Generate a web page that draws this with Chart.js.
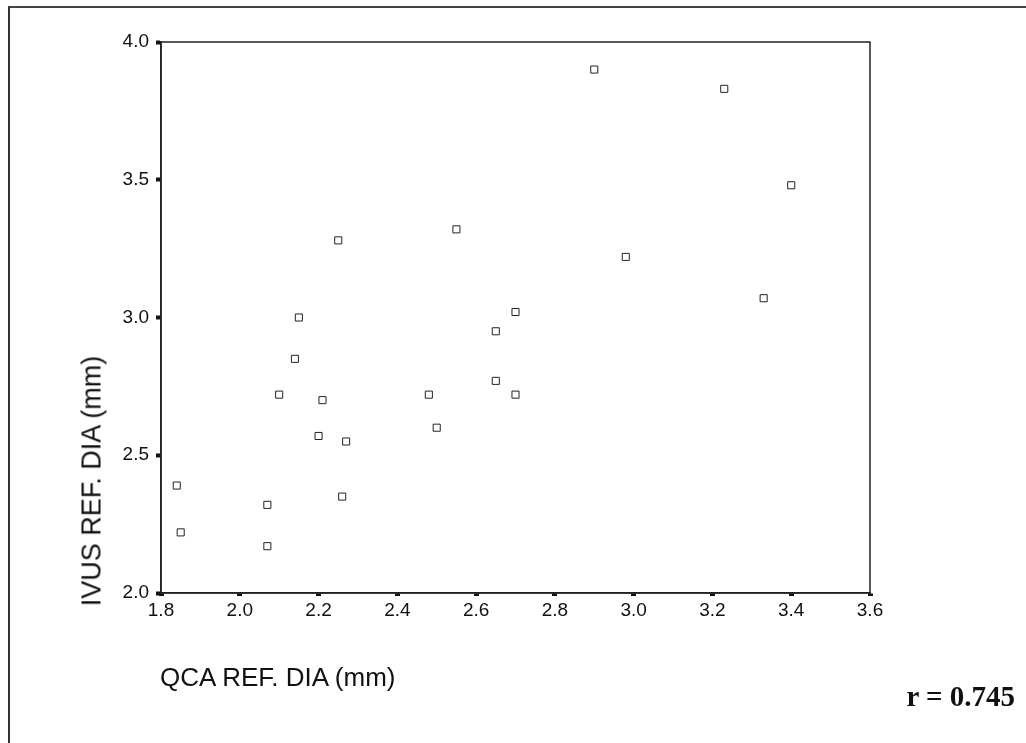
<!DOCTYPE html>
<html>
<head>
<meta charset="utf-8">
<title>QCA vs IVUS reference diameter</title>
<script src="https://cdn.jsdelivr.net/npm/chart.js@4.4.1/dist/chart.umd.min.js"></script>
<style>
  html, body { margin: 0; padding: 0; background: #fff; }
  body { width: 1026px; height: 743px; position: relative; overflow: hidden;
         font-family: "Liberation Sans", Arial, sans-serif; color: #111; }
  #frame { position: absolute; left: 8px; top: 6px; right: 0; bottom: 0;
           border-left: 2px solid #333; border-top: 2px solid #444; }
  #chart { position: absolute; left: 0; top: 0; }
  .label { position: absolute; white-space: nowrap; }
  #xTitle { left: 160px; top: 662px; font-size: 26px; }
  #yTitle { left: 92px; top: 481px; font-size: 27px;
            transform: translate(-50%, -50%) rotate(-90deg); }
  #rValue { right: 11px; top: 680px; font-family: "Liberation Serif", "Times New Roman", serif;
            font-weight: bold; font-size: 29px; }
</style>
</head>
<body>
<div id="frame"></div>
<canvas id="chart" width="1026" height="743"></canvas>
<div class="label" id="xTitle">QCA REF. DIA (mm)</div>
<div class="label" id="yTitle">IVUS REF. DIA (mm)</div>
<div class="label" id="rValue">r = 0.745</div>

<script>
// Values (mm)
const qcaRefDia = [1.84, 1.85, 2.07, 2.07, 2.10, 2.14, 2.15, 2.20, 2.21, 2.25, 2.27, 2.26,
                   2.48, 2.50, 2.55, 2.65, 2.65, 2.70, 2.70, 2.90, 2.98, 3.23, 3.33, 3.40];
const ivusRefDia = [2.39, 2.22, 2.32, 2.17, 2.72, 2.85, 3.00, 2.57, 2.70, 3.28, 2.55, 2.35,
                    2.72, 2.60, 3.32, 2.95, 2.77, 3.02, 2.72, 3.90, 3.22, 3.83, 3.07, 3.48];

const xTicks = [1.8, 2.0, 2.2, 2.4, 2.6, 2.8, 3.0, 3.2, 3.4, 3.6];
const yTicks = [2.0, 2.5, 3.0, 3.5, 4.0];

const points = qcaRefDia.map((x, i) => ({ x: x, y: ivusRefDia[i] }));

// Box round the plot area (top and right sides too)
const plotBox = {
  id: 'plotBox',
  afterDraw(chart) {
    const a = chart.chartArea;
    const ctx = chart.ctx;
    ctx.save();
    ctx.strokeStyle = '#222';
    ctx.lineWidth = 1.5;
    ctx.strokeRect(a.left, a.top, a.right - a.left, a.bottom - a.top);
    ctx.restore();
  }
};

const tickFont = { family: '"Liberation Sans", Arial, sans-serif', size: 19 };

new Chart(document.getElementById('chart').getContext('2d'), {
  type: 'scatter',
  data: {
    datasets: [{
      data: points,
      pointStyle: 'rect',
      pointRadius: 5,
      pointBorderWidth: 1,
      pointBorderColor: '#222',
      pointBackgroundColor: 'rgba(255,255,255,0)'
    }]
  },
  options: {
    responsive: false,
    animation: false,
    devicePixelRatio: 1,
    layout: { padding: { left: 0, top: 42, right: 156, bottom: 0 } },
    plugins: { legend: { display: false }, tooltip: { enabled: false } },
    scales: {
      x: {
        type: 'linear',
        min: 1.8,
        max: 3.6,
        afterFit(scale) { scale.height = 150; },
        afterBuildTicks(scale) { scale.ticks = xTicks.map(v => ({ value: v })); },
        grid: { drawOnChartArea: false, drawTicks: true, tickLength: 3, tickWidth: 5, tickColor: '#111' },
        border: { display: true, color: '#222', width: 1.5 },
        ticks: { color: '#111', font: tickFont, padding: 3, maxRotation: 0,
                 callback: v => v.toFixed(1) }
      },
      y: {
        type: 'linear',
        min: 2.0,
        max: 4.0,
        afterFit(scale) { scale.width = 161; },
        afterBuildTicks(scale) { scale.ticks = yTicks.map(v => ({ value: v })); },
        grid: { drawOnChartArea: false, drawTicks: true, tickLength: 5, tickWidth: 4, tickColor: '#111' },
        border: { display: true, color: '#222', width: 1.5 },
        ticks: { color: '#111', font: tickFont, padding: 7,
                 callback: v => v.toFixed(1) }
      }
    }
  },
  plugins: [plotBox]
});
</script>
</body>
</html>
